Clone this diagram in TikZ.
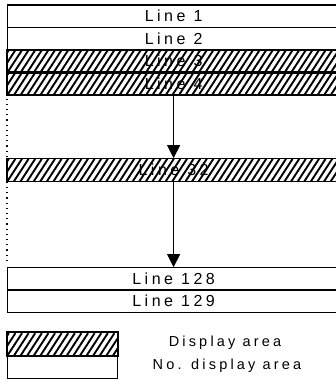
\documentclass[tikz,border=0pt]{standalone}
\usepackage{fontspec}
\setmainfont{Liberation Sans}[LetterSpace=22]
\usetikzlibrary{arrows.meta}
\tikzset{
  rowbox/.style={draw, line width=1.2pt, minimum width=332pt, minimum height=22.5pt, inner sep=0pt, font=\fontsize{16}{18}\selectfont, anchor=west},
  legbox/.style={draw, line width=1.2pt, minimum width=110pt, minimum height=23pt, inner sep=0pt, anchor=north west},
  legtext/.style={font=\fontsize{14.5}{16}\selectfont, inner sep=0pt},
  flow/.style={line width=1.1pt, -{Triangle[length=13pt,width=13pt]}},
  dotline/.style={line width=2.2pt, dash pattern=on 1.2pt off 4pt},
}
\newcommand{\hatchnode}[1]{%
  \begin{scope}
    \clip (#1.south west) rectangle (#1.north east);
    \foreach \k in {-40,...,60} {
      \draw[line width=1.9pt] ([xshift=\k*6.6pt]#1.south west) -- ++(15pt,23pt);
    }
  \end{scope}
  \draw[line width=1.2pt] (#1.south west) rectangle (#1.north east);
}
\begin{document}
\begin{tikzpicture}[x=1pt,y=-1pt]
\useasboundingbox (0,0) rectangle (336,380);
\clip (0,0) rectangle (336,380);
\fill[white] (0,0) rectangle (336,380);
\node[rowbox] (l1) at (7,16.25) {Line 1};
\node[rowbox] (l2) at (7,38.75) {Line 2};
\node[rowbox] (l3) at (7,61.25) {Line 3};
\node[rowbox] (l4) at (7,83.75) {Line 4};
\node[rowbox] (l32) at (7,170) {Line 32};
\node[rowbox] (l128) at (7,279) {Line 128};
\node[rowbox] (l129) at (7,301) {Line 129};
\hatchnode{l3}
\hatchnode{l4}
\hatchnode{l32}
\draw[flow] (l4.south) -- (l32.north);
\draw[flow] (l32.south) -- (l128.north);
\draw[dotline] ([yshift=-3pt]l4.south west) -- ([yshift=5pt]l128.north west);
\node[legbox] (lh) at (7,332) {};
\node[legbox] (lw) at (7,355) {};
\hatchnode{lh}
\node[legtext] (t1) at (225,343) {Display area};
\node[legtext] (t2) at (227,366) {No. display area};
\end{tikzpicture}
\end{document}
